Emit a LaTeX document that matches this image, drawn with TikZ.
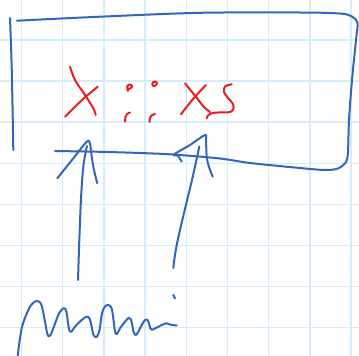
\documentclass[tikz,border=0pt]{standalone}
\definecolor{gridblue}{RGB}{214,236,250}
\definecolor{inkblue}{RGB}{52,101,190}
\definecolor{inkred}{RGB}{232,30,36}
\tikzset{
  gridline/.style={draw=gridblue, line width=1.5pt},
  blueink/.style={draw=inkblue, line width=2pt, line cap=round, line join=round},
  redink/.style={draw=inkred, line width=2pt, line cap=round, line join=round},
}
\begin{document}
\begin{tikzpicture}[x=1pt,y=-1pt]
\fill[white] (0,0) rectangle (359,356);
\useasboundingbox (0,0) rectangle (359,356);
% grid paper
\foreach \i in {0,...,8} \draw[gridline] ({21.5+41.2*\i},0) -- ({21.5+41.2*\i},356);
\foreach \j in {0,...,7} \draw[gridline] (0,{40+41.1*\j}) -- (359,{40+41.1*\j});
% box
\draw[blueink] plot[smooth,tension=0.6] coordinates {(10,18) (11.5,60) (12.5,105) (13.3,150)};
\draw[blueink] plot[smooth,tension=0.5] coordinates {(17,20.7) (100,16.7) (200,12.8) (300,12.5) (340,13.5) (352,16.5) (357.5,23) (356,40) (352,80) (349,120) (348,152) (346,162) (338,168.5) (325,170) (300,168) (250,163) (220,158.5) (173,154.5) (140,153) (100,151.8) (55,151)};
% left arrow
\draw[blueink] plot[smooth,tension=0.5] coordinates {(57.3,178.3) (72,160) (86.7,141.7) (90,143.5) (91.7,156.7) (94,170) (97.3,183.3)};
\draw[blueink] plot[smooth,tension=0.6] coordinates {(78,280) (79.5,235) (81.2,195) (83.5,165) (87,146)};
% right arrow
\draw[blueink] plot[smooth,tension=0.5] coordinates {(181.7,161.7) (178,156) (174,154.5) (190,145) (205,135) (206,140) (206.7,156.7) (209,167) (212.7,176.7)};
\draw[blueink] plot[smooth,tension=0.6] coordinates {(199.3,146.7) (192,180) (184,213) (176.5,246) (173.3,268)};
% handwriting below
\draw[blueink] plot[smooth,tension=0.6] coordinates {(17.7,356) (21.7,328.3) (28.3,310) (33,303) (37,301) (40.5,303) (42.5,309) (45,321.7) (47.5,334.5) (49.5,336) (52,331.7) (58.3,315) (62,309.5) (64.5,308.3) (66.5,312) (68.3,325) (69.5,330.5) (71.5,331.5) (75,326.7) (81.7,320) (86.7,316.7) (89.5,318.5) (91.7,326.7) (93.3,334.5) (96.5,337.2) (99.5,330) (101.7,315) (104.5,307) (108.3,305) (111.5,308) (113.3,318.3) (115,331.5) (117,334) (120,328.3) (125,321.7) (128.5,318) (130.5,318.8) (132,323.5) (133.5,331.7) (135.7,335) (138.3,331.7) (141.7,325) (145,320) (147.2,319.5) (149,323.3) (150.3,328.3) (152.2,329.8) (155,328.5) (161.7,325) (166.7,323.3) (170,324.5) (176.7,325.5)};
\draw[blueink] (173.3,295) -- (175,298.3);
% red writing: X :: XS
\draw[redink] plot[smooth,tension=0.6] coordinates {(70,66.7) (75,80) (85,95) (93.3,108.3) (95.7,115)};
\draw[redink] plot[smooth,tension=0.6] coordinates {(97.7,86.7) (82,100) (65,116.7)};
\draw[redink] plot[smooth,tension=0.8] coordinates {(128,91) (127.2,86.5) (130,84.5) (132,86.5) (129.5,88.8) (127.5,88.5)};
\draw[redink] plot[smooth,tension=0.8] coordinates {(154,86.5) (152.2,84) (154.5,81.5) (157,83) (155,86)};
\draw[redink] plot[smooth,tension=0.7] coordinates {(130,112.5) (127,114) (125.5,117) (125,121.5)};
\draw[redink] plot[smooth,tension=0.7] coordinates {(155,114) (151.5,115.5) (150,118) (149.5,122)};
\draw[redink] plot[smooth,tension=0.6] coordinates {(185,83.3) (196,97) (204,107) (210,112)};
\draw[redink] plot[smooth,tension=0.6] coordinates {(206,85) (193,99) (181,114.3)};
\draw[redink] plot[smooth,tension=0.6] coordinates {(231.7,84.3) (225,86.5) (224,92) (228,98) (233,104) (233,110) (228,112.3) (218,112.5) (211.7,113.3) (208,115.5) (206.7,118.3)};
\end{tikzpicture}
\end{document}
